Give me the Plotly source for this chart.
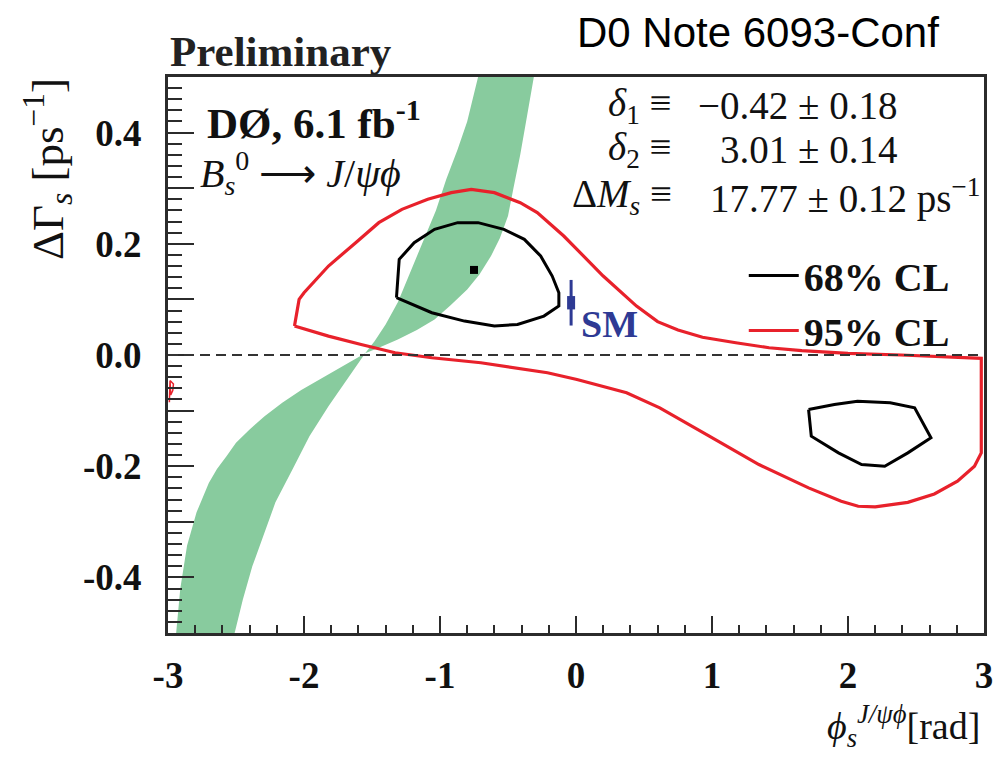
import plotly.graph_objects as go

# ---------------- data ----------------
# green band (upper branch, left and right edges, from top down to the pinch)
band_up_left_phi = [-0.72, -0.80, -0.87, -0.954, -1.03, -1.14, -1.22, -1.31, -1.40, -1.48, -1.55]
band_up_left_dg = [0.50, 0.42, 0.37, 0.316, 0.26, 0.196, 0.146, 0.095, 0.055, 0.025, 0.003]
band_up_right_phi = [-0.31, -0.36, -0.41, -0.46, -0.50, -0.56, -0.625, -0.71, -0.80, -0.92, -1.04, -1.17, -1.31, -1.45, -1.55]
band_up_right_dg = [0.50, 0.43, 0.36, 0.30, 0.25, 0.21, 0.178, 0.145, 0.118, 0.09, 0.064, 0.045, 0.028, 0.013, 0.003]
# lower branch (from the pinch down to the bottom)
band_lo_left_phi = [-1.55, -1.70, -1.87, -2.02, -2.16, -2.29, -2.40, -2.50, -2.57, -2.64, -2.70, -2.79, -2.86, -2.91, -2.94]
band_lo_left_dg = [0.003, -0.018, -0.041, -0.063, -0.086, -0.11, -0.134, -0.158, -0.182, -0.205, -0.23, -0.283, -0.343, -0.421, -0.5]
band_lo_right_phi = [-1.55, -1.67, -1.82, -1.96, -2.085, -2.21, -2.30, -2.38, -2.45, -2.51]
band_lo_right_dg = [0.003, -0.038, -0.092, -0.146, -0.206, -0.265, -0.326, -0.38, -0.44, -0.5]

# 95% CL contour (closed)
cl95_phi = [-2.07, -2.036, -2.0, -1.82, -1.62, -1.45, -1.28, -1.09, -0.917, -0.77, -0.60, -0.41,
            -0.285, -0.09, 0.007, 0.20, 0.445, 0.60, 0.75, 0.93, 1.175, 1.42, 1.66, 2.0, 2.39, 2.98,
            2.98, 2.93, 2.805, 2.635, 2.44, 2.20, 2.075, 1.95, 1.71, 1.345, 0.98, 0.616, 0.372,
            0.153, 0.007, -0.21, -0.70, -1.06, -1.33, -1.58, -1.82, -2.07]
cl95_dg = [0.052, 0.10, 0.112, 0.16, 0.202, 0.238, 0.262, 0.28, 0.292, 0.298, 0.292, 0.274,
           0.256, 0.214, 0.19, 0.142, 0.088, 0.06, 0.045, 0.032, 0.022, 0.013, 0.008, 0.003, 0.0, -0.006,
           -0.176, -0.2, -0.227, -0.25, -0.265, -0.273, -0.272, -0.263, -0.239, -0.197, -0.146, -0.095, -0.068,
           -0.053, -0.044, -0.032, -0.014, -0.005, 0.004, 0.019, 0.034, 0.052]
# small 95% CL island near the left edge
cl95b_phi = [-2.985, -2.96, -2.965, -2.98, -2.985, -2.99]
cl95b_dg = [-0.046, -0.052, -0.064, -0.072, -0.046, -0.085]

# 68% CL contours
cl68a_phi = [-1.32, -1.30, -1.19, -1.04, -0.87, -0.72, -0.53, -0.38, -0.26, -0.175, -0.126, -0.126,
             -0.236, -0.43, -0.60, -0.82, -1.06, -1.32]
cl68a_dg = [0.103, 0.172, 0.202, 0.226, 0.238, 0.238, 0.226, 0.208, 0.178, 0.142, 0.112, 0.088,
            0.07, 0.055, 0.052, 0.061, 0.076, 0.103]
cl68b_phi = [1.71, 1.73, 1.93, 2.10, 2.27, 2.44, 2.61, 2.49, 2.31, 2.07, 1.90, 1.71]
cl68b_dg = [-0.098, -0.146, -0.176, -0.197, -0.2, -0.176, -0.149, -0.095, -0.086, -0.083, -0.089, -0.098]

# best fit point and SM prediction
best_phi, best_dg = [-0.75], [0.153]
sm_phi, sm_dg, sm_err = [-0.036], [0.094], [0.041]
sm_box_err = [0.012]

x_ticks = [-3, -2, -1, 0, 1, 2, 3]
x_ticklabels = ["-3", "-2", "-1", "0", "1", "2", "3"]
y_ticks = [-0.5, -0.4, -0.3, -0.2, -0.1, 0.0, 0.1, 0.2, 0.3, 0.4, 0.5]
y_ticklabels = ["", "-0.4", "", "-0.2", "", "0.0", "", "0.2", "", "0.4", ""]

# ---------------- styles ----------------
GREEN = "#88cb9e"
RED = "#e8212b"
BLUE = "#2e3a94"
AX = "#2b2b2b"
SERIF = "Liberation Serif"
NB = "\u00a0"

X0, X1, Y0, Y1 = 168, 990, 77, 633


def px(x):
    return (x - X0) / (X1 - X0)


def py(y):
    return (Y1 - y) / (Y1 - Y0)


fig = go.Figure()

band_x = band_up_left_phi + band_lo_left_phi + band_lo_right_phi[::-1] + band_up_right_phi[::-1]
band_y = band_up_left_dg + band_lo_left_dg + band_lo_right_dg[::-1] + band_up_right_dg[::-1]
fig.add_trace(go.Scatter(x=band_x, y=band_y, mode="lines", fill="toself", fillcolor=GREEN,
                         line=dict(width=0, color=GREEN), showlegend=False, hoverinfo="skip"))

fig.add_trace(go.Scatter(x=cl68a_phi, y=cl68a_dg, mode="lines", line=dict(color="black", width=3),
                         name="68% CL", legendgroup="68", showlegend=True))
fig.add_trace(go.Scatter(x=cl68b_phi, y=cl68b_dg, mode="lines", line=dict(color="black", width=3),
                         name="68% CL", legendgroup="68", showlegend=False))
fig.add_trace(go.Scatter(x=cl95_phi, y=cl95_dg, mode="lines", line=dict(color=RED, width=3.2),
                         name="95% CL", legendgroup="95", showlegend=True))
fig.add_trace(go.Scatter(x=cl95b_phi, y=cl95b_dg, mode="lines", line=dict(color=RED, width=1.5),
                         name="95% CL", legendgroup="95", showlegend=False))

fig.add_trace(go.Scatter(x=best_phi, y=best_dg, mode="markers",
                         marker=dict(symbol="square", size=8, color="black"), showlegend=False))

fig.add_trace(go.Scatter(x=sm_phi, y=sm_dg, mode="markers", marker=dict(size=1, color=BLUE),
                         error_y=dict(type="data", array=sm_err, color=BLUE, thickness=3, width=0),
                         showlegend=False))
fig.add_trace(go.Scatter(x=sm_phi, y=sm_dg, mode="markers", marker=dict(size=1, color=BLUE),
                         error_y=dict(type="data", array=sm_box_err, color=BLUE, thickness=8, width=0),
                         showlegend=False))

fig.add_hline(y=0, line=dict(color="#333333", width=2, dash="10px,6px"))

annos = []
annos.append(dict(text="<b>Preliminary</b>", x=px(168), y=py(51), xanchor="left", yanchor="middle",
                  font=dict(family=SERIF, size=43, color="#222")))
annos.append(dict(text="D0 Note 6093-Conf", x=px(762), y=py(32), xanchor="center", yanchor="middle",
                  font=dict(family="Liberation Sans", size=42, color="black")))
annos.append(dict(text="<b>DØ, 6.1 fb<sup>-1</sup></b>", x=px(205), y=py(120), xanchor="left", yanchor="middle",
                  font=dict(family=SERIF, size=43, color="#111")))
annos.append(dict(text="<i>B</i><sub><i>s</i></sub><sup>0</sup> ⟶ <i>J</i>/<i>ψϕ</i>", x=px(198), y=py(173),
                  xanchor="left", yanchor="middle", font=dict(family=SERIF, size=40, color="#111")))
rows = [("<i>δ</i><sub>1</sub> ≡", "−0.42" + NB + "±" + NB + "0.18", 904, 105),
        ("<i>δ</i><sub>2</sub> ≡", "3.01" + NB + "±" + NB + "0.14", 904, 150),
        ("Δ<i>M</i><sub><i>s</i></sub> ≡", "17.77" + NB + "±" + NB + "0.12 ps<sup>−1</sup>", 988, 196)]
for left, right, xr, yc in rows:
    annos.append(dict(text=left, x=px(678), y=py(yc), xanchor="right", yanchor="middle",
                      font=dict(family=SERIF, size=39, color="#111")))
    annos.append(dict(text=right, x=px(xr), y=py(yc), xanchor="right", yanchor="middle",
                      font=dict(family=SERIF, size=39, color="#111")))
annos.append(dict(text="<b>SM</b>", x=px(582), y=py(324), xanchor="left", yanchor="middle",
                  font=dict(family=SERIF, size=38, color=BLUE)))
annos.append(dict(text="<i>ϕ</i><sub><i>s</i></sub><sup><i>J/ψϕ</i></sup>[rad]", x=px(988), y=py(726),
                  xanchor="right", yanchor="middle", font=dict(family=SERIF, size=38, color="#111")))
annos.append(dict(text="ΔΓ<sub><i>s</i></sub> [ps<sup>−1</sup>]", x=px(46), y=py(76), xanchor="center",
                  yanchor="top", textangle=-90, font=dict(family=SERIF, size=45, color="#111")))
for a in annos:
    a.update(xref="paper", yref="paper", showarrow=False)

fig.update_layout(
    width=1005, height=757,
    margin=dict(l=X0, r=1005 - X1, t=Y0, b=757 - Y1),
    paper_bgcolor="white", plot_bgcolor="white",
    annotations=annos,
    showlegend=True,
    legend=dict(x=px(748), y=py(243), xanchor="left", yanchor="top", bgcolor="rgba(0,0,0,0)",
                font=dict(family=SERIF, size=40, color="#111", weight="bold"),
                itemwidth=50, tracegroupgap=0),
    xaxis=dict(range=[-3, 3], tickvals=x_ticks, ticktext=x_ticklabels, ticks="inside", ticklen=17,
               tickwidth=2, tickcolor=AX, showline=True, linecolor=AX, linewidth=3, mirror=True,
               showgrid=False, zeroline=False, ticklabelstandoff=8,
               tickfont=dict(family=SERIF, size=37, color="#111", weight="bold"),
               minor=dict(dtick=0.2, ticks="inside", ticklen=8, tickwidth=2, tickcolor=AX, showgrid=False)),
    yaxis=dict(range=[-0.5, 0.5], tickvals=y_ticks, ticktext=y_ticklabels, ticks="inside", ticklen=26,
               tickwidth=2, tickcolor=AX, showline=True, linecolor=AX, linewidth=3, mirror=True,
               showgrid=False, zeroline=False, ticklabelstandoff=16,
               tickfont=dict(family=SERIF, size=37, color="#111", weight="bold"),
               minor=dict(dtick=0.02, ticks="inside", ticklen=14, tickwidth=2, tickcolor=AX, showgrid=False)),
)

fig.write_html("out.html")
